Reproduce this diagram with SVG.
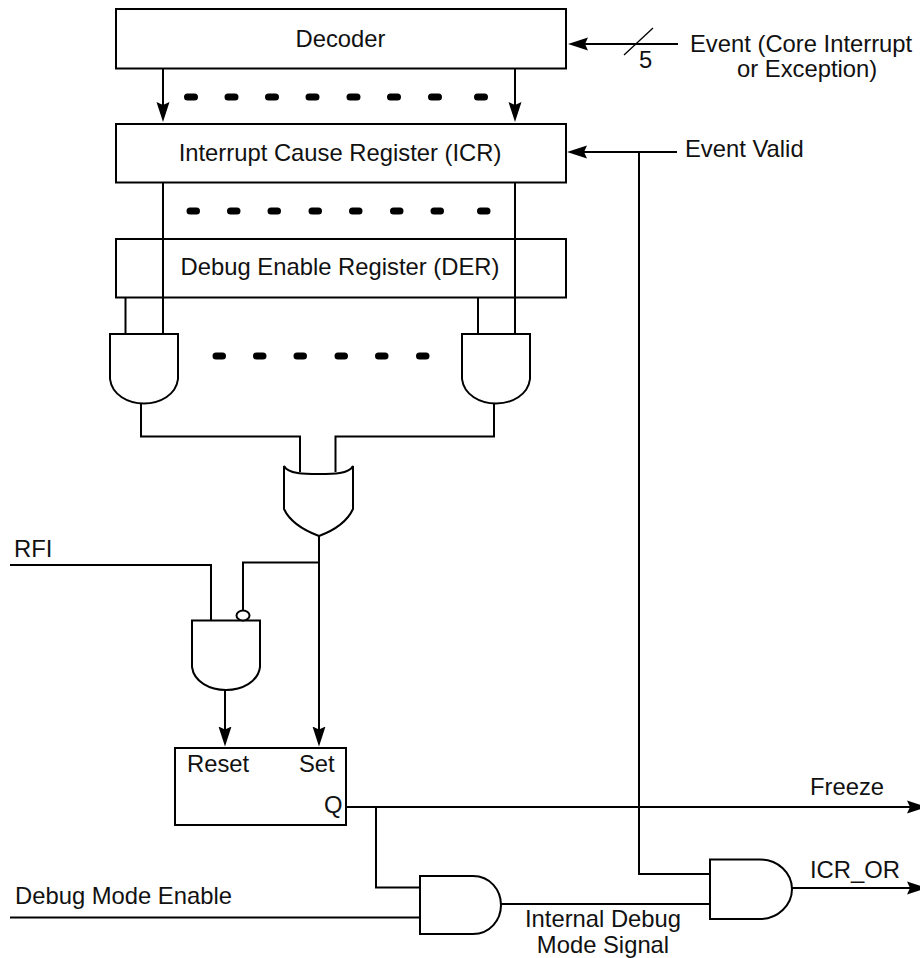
<svg xmlns="http://www.w3.org/2000/svg" width="920" height="958" viewBox="0 0 920 958">
<style>
text{font-family:"Liberation Sans",Arial,sans-serif;font-size:23.8px;fill:#111}
.m{text-anchor:middle}
.b{fill:#fff;stroke:#000;stroke-width:2}
.g{fill:none;stroke:#000;stroke-width:2}
.w{fill:none;stroke:#000;stroke-width:2}
.a{marker-end:url(#ah)}
.d{fill:none;stroke:#000;stroke-width:7;stroke-linecap:round}
</style>
<defs>
<marker id="ah" markerUnits="userSpaceOnUse" markerWidth="22" markerHeight="14" refX="5" refY="7" orient="auto" viewBox="0 0 22 14">
<path d="M0,0.500 L20,7 L0,13.500 L3,7 Z" fill="#000"/>
</marker>
</defs>
<g id="decoder"><rect class="b" x="116" y="9" width="450" height="59.5"/><text class="m" x="340.500" y="46.500">Decoder</text></g>
<g id="icr"><rect class="b" x="116" y="124" width="450" height="58.5"/><text class="m" x="340" y="160.500">Interrupt Cause Register (ICR)</text></g>
<g id="der"><rect class="b" x="116" y="239" width="450" height="58.5"/></g>
<g id="connectors">
<path class="w a" d="M163,68.500V107"/>
<path class="w a" d="M515,68.500V107"/>
<path class="w" d="M163,182.500V334M515,182.500V334M125.500,297.500V334M478,297.500V334"/>
<path class="w" d="M141,403V436.500H300V472M494,403V436.500H335.500V472"/>
<path class="w" d="M319,536V610"/>
<path class="w a" d="M319,562.500V731.500"/>
<path class="w" d="M319,562.500H243V610"/>
<path class="w" d="M10,565H211V620"/>
<path class="w a" d="M225,690V731.500"/>
<path class="w a" d="M346,807H912"/>
<path class="w" d="M376,807V887.500H420M10,917.500H420"/>
<path class="w" d="M501,904H710"/>
<path class="w" d="M639,152V874H710"/>
<path class="w a" d="M792,888H912"/>
<path class="w a" d="M678,44H583"/>
<path class="w a" d="M677,152H582"/>
<path d="M624,55L653,28" fill="none" stroke="#000" stroke-width="1.300"/>
</g>
<g id="der-label"><text class="m" x="340" y="275">Debug Enable Register (DER)</text></g>
<g id="dots-1"><path class="d" d="M187.500,97h7M228,97h7M268.500,97h7M309,97h7M350,97h7M390.500,97h7M431.500,97h7M477.500,97h7"/></g>
<g id="dots-2"><path class="d" d="M190,211h6.500M230.500,211h6.500M271,211h6.500M312,211h6.500M352.500,211h6.500M393.500,211h6.500M434,211h6.500M480.500,211h6.500"/></g>
<g id="dots-3"><path class="d" d="M216,356h6.500M256.500,356h6.500M297,356h6.500M338,356h6.500M378.500,356h6.500M419.500,356h6.500"/></g>
<g id="and-left"><path class="g" d="M110,334H178V379C176,395 160,403.500 144,403.500C128,403.500 112,395 110,379Z"/></g>
<g id="and-right"><path class="g" d="M462,334H530V379C528,395 512,403.500 496,403.500C480,403.500 464,395 462,379Z"/></g>
<g id="or"><path class="g" d="M284,466C288,474 305,474 319,474C333,474 349,474 353,466V509C347,522 335,530 319,536C303,530 290,522 284,509Z"/></g>
<g id="and-reset"><path class="g" d="M192,620.500H260V667C258,682 242,690 226,690C210,690 194,682 192,667Z"/><ellipse class="b" cx="243" cy="615.500" rx="6.500" ry="5"/></g>
<g id="latch"><rect class="b" x="175" y="748" width="171" height="77"/><text x="187" y="771.500">Reset</text><text x="299" y="771.500">Set</text><text x="324" y="813">Q</text></g>
<g id="and-debug"><path class="g" d="M420,876H473C490,876 501,890 501,905C501,920 490,934 473,934H420Z"/></g>
<g id="and-icr"><path class="g" d="M710,859.500H760C778,859.500 792,873 792,889C792,905 778,919 760,919H710Z"/></g>
<g id="labels">
<text x="639" y="68">5</text>
<text x="690" y="52">Event (Core Interrupt</text>
<text x="737" y="77">or Exception)</text>
<text x="685" y="157">Event Valid</text>
<text x="14" y="557">RFI</text>
<text x="15" y="904">Debug Mode Enable</text>
<text x="810" y="795">Freeze</text>
<text x="810" y="878">ICR_OR</text>
<text class="m" x="603" y="927">Internal Debug</text>
<text class="m" x="603" y="953">Mode Signal</text>
</g>
</svg>
